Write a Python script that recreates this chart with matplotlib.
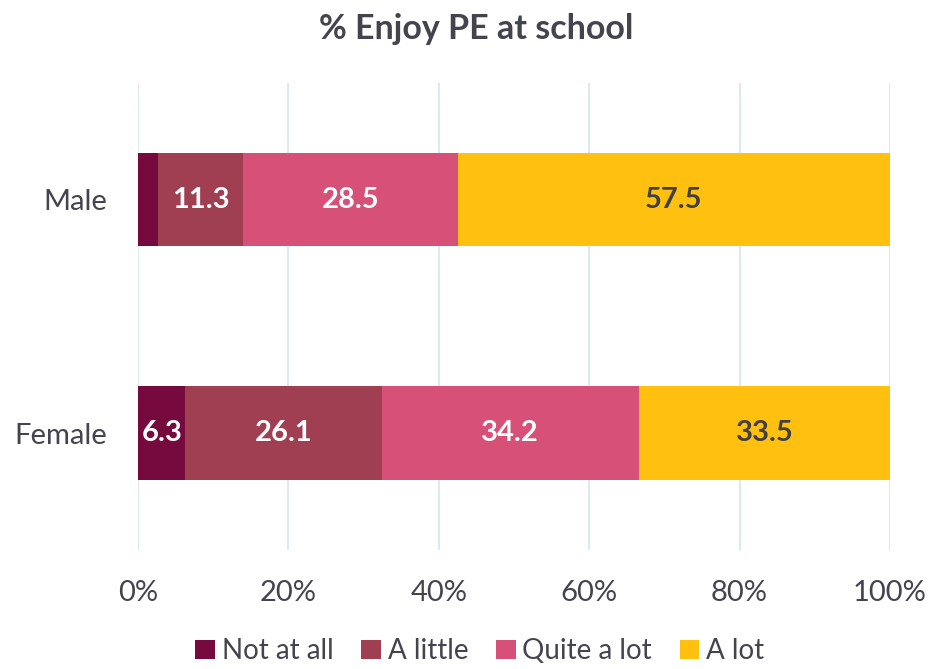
import matplotlib
matplotlib.use("Agg")
import matplotlib.pyplot as plt
from matplotlib.ticker import PercentFormatter

categories = ["Female", "Male"]
series_names = ["Not at all", "A little", "Quite a lot", "A lot"]
not_at_all = [6.3, 2.7]
a_little = [26.1, 11.3]
quite_a_lot = [34.2, 28.5]
a_lot = [33.5, 57.5]
colors = ["#760A3F", "#A03F51", "#D75077", "#FFC010"]
label_colors = ["white", "white", "white", "#404040"]
ticks = [0, 20, 40, 60, 80, 100]

plt.rcParams['font.family'] = ['Lato', 'DejaVu Sans']
text_color = "#44444F"

fig = plt.figure(figsize=(9.3, 6.69), dpi=100)
ax = fig.add_axes([0.1484, 0.178, 0.8086, 0.698])

series = [not_at_all, a_little, quite_a_lot, a_lot]
y = list(range(len(categories)))
left = [0.0] * len(categories)
for name, vals, c, lc in zip(series_names, series, colors, label_colors):
    bars = ax.barh(y, vals, left=left, height=0.4, color=c, label=name, zorder=3)
    for b, v in zip(bars, vals):
        if v >= 5:
            ax.text(b.get_x() + b.get_width() / 2, b.get_y() + b.get_height() / 2,
                    f"{v:.1f}", ha="center", va="center", color=lc,
                    fontsize=21, fontweight="bold", zorder=4)
    left = [l + v for l, v in zip(left, vals)]

ax.set_xlim(0, 100)
ax.set_ylim(-0.5, 1.5)
ax.set_yticks(y)
ax.set_yticklabels(categories)
ax.set_xticks(ticks)
ax.xaxis.set_major_formatter(PercentFormatter(decimals=0))
ax.grid(axis="x", color="#D5E9F0", linewidth=1.3, zorder=0)
ax.grid(axis="y", visible=False)
for s in ax.spines.values():
    s.set_visible(False)
ax.tick_params(length=0, labelsize=21, colors=text_color)
ax.tick_params(axis="x", pad=22)
ax.tick_params(axis="y", pad=22)

fig.suptitle("% Enjoy PE at school", x=0.512, y=0.98, fontsize=24.5,
             fontweight="bold", color=text_color)

leg = fig.legend(loc="lower center", bbox_to_anchor=(0.516, -0.03), ncol=4,
                 frameon=False, fontsize=20, handlelength=0.7, handleheight=0.7,
                 handletextpad=0.25, columnspacing=1.0)
for t in leg.get_texts():
    t.set_color(text_color)

fig.savefig("out.png", dpi=100)
